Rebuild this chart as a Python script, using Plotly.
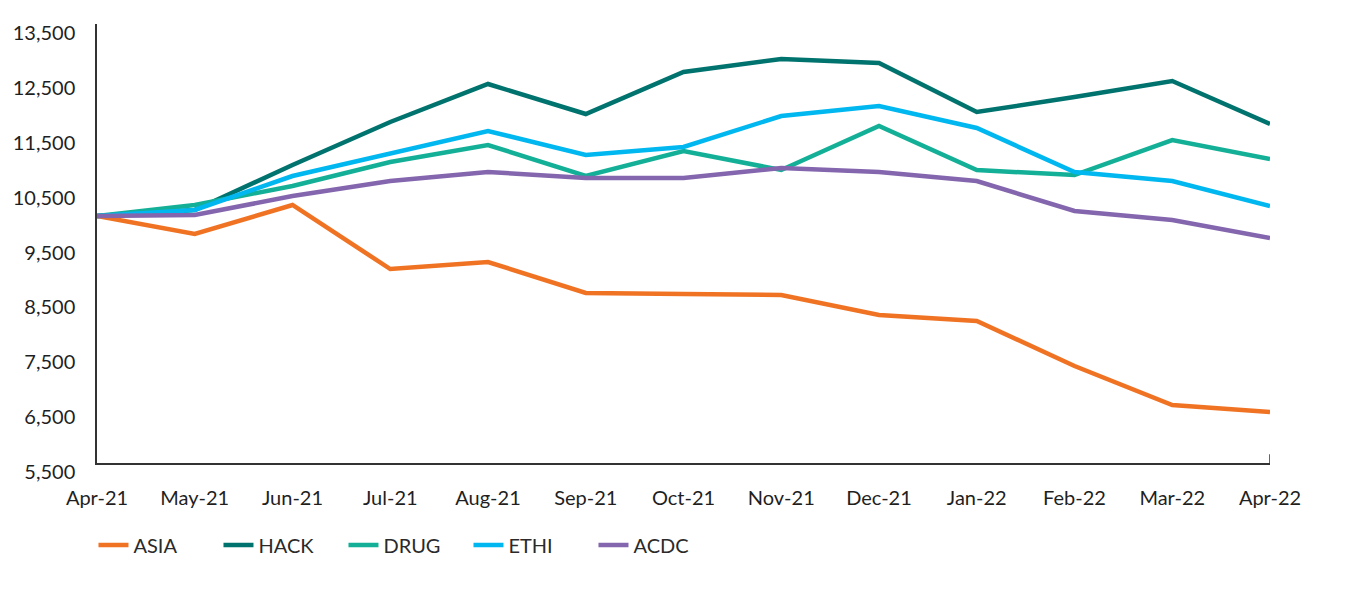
import plotly.graph_objs as go

# months along the x axis
months = ['Apr-21', 'May-21', 'Jun-21', 'Jul-21', 'Aug-21', 'Sep-21', 'Oct-21',
          'Nov-21', 'Dec-21', 'Jan-22', 'Feb-22', 'Mar-22', 'Apr-22']

# growth of 10,000 for each fund
asia = [10000, 9673, 10202, 9035, 9163, 8598, 8580, 8562, 8197, 8088, 7268, 6557, 6429]
hack = [10000, 10111, 10931, 11714, 12407, 11860, 12625, 12862, 12789, 11896, 12170, 12461, 11678]
drug = [10000, 10202, 10548, 10985, 11295, 10730, 11186, 10839, 11641, 10839, 10748, 11386, 11040]
ethi = [10000, 10111, 10730, 11131, 11550, 11113, 11259, 11823, 12006, 11605, 10803, 10639, 10183]
acdc = [10000, 10019, 10366, 10639, 10803, 10694, 10694, 10876, 10803, 10639, 10092, 9928, 9600]

y_ticks = [5500, 6500, 7500, 8500, 9500, 10500, 11500, 12500, 13500]

series = [
    ('ASIA', asia, '#F07323'),
    ('HACK', hack, '#00736E'),
    ('DRUG', drug, '#13B097'),
    ('ETHI', ethi, '#00B7F0'),
    ('ACDC', acdc, '#8466AE'),
]

fig = go.Figure()
for name, vals, color in series:
    fig.add_trace(go.Scatter(x=months, y=vals, name=name, mode='lines',
                             line=dict(color=color, width=4.5)))

# page body has an 8px margin, so margins are trimmed to compensate
fig.update_layout(
    width=1368, height=590,
    margin=dict(l=89, r=106, t=16, b=135),
    paper_bgcolor='white', plot_bgcolor='white',
    font=dict(family='Lato, Open Sans, sans-serif', size=20, color='#1f1f1f'),
    showlegend=True,
    legend=dict(orientation='h', x=-0.003, xanchor='left', y=-0.187, yanchor='middle',
                entrywidth=80, entrywidthmode='pixels',
                font=dict(size=20, color='#2a2a2a')),
    # little tick at the right end of the x axis
    shapes=[dict(type='line', xref='x', yref='y domain', x0=months[-1], x1=months[-1],
                 y0=0, y1=0.02, line=dict(color='#333', width=1.5))],
)

fig.update_xaxes(type='category', categoryorder='array', categoryarray=months,
                 showgrid=False, showline=True, linecolor='#333', linewidth=1.5,
                 ticks='', ticklabelstandoff=16, range=[0, len(months) - 1],
                 automargin=False)
fig.update_yaxes(range=[5500, 13500], tickvals=y_ticks, tickformat=',d',
                 showgrid=False, zeroline=False, showline=True, linecolor='#333',
                 linewidth=1.5, ticks='', ticklabelstandoff=16, ticklabelshift=9,
                 automargin=False)

fig.write_html("out.html")
